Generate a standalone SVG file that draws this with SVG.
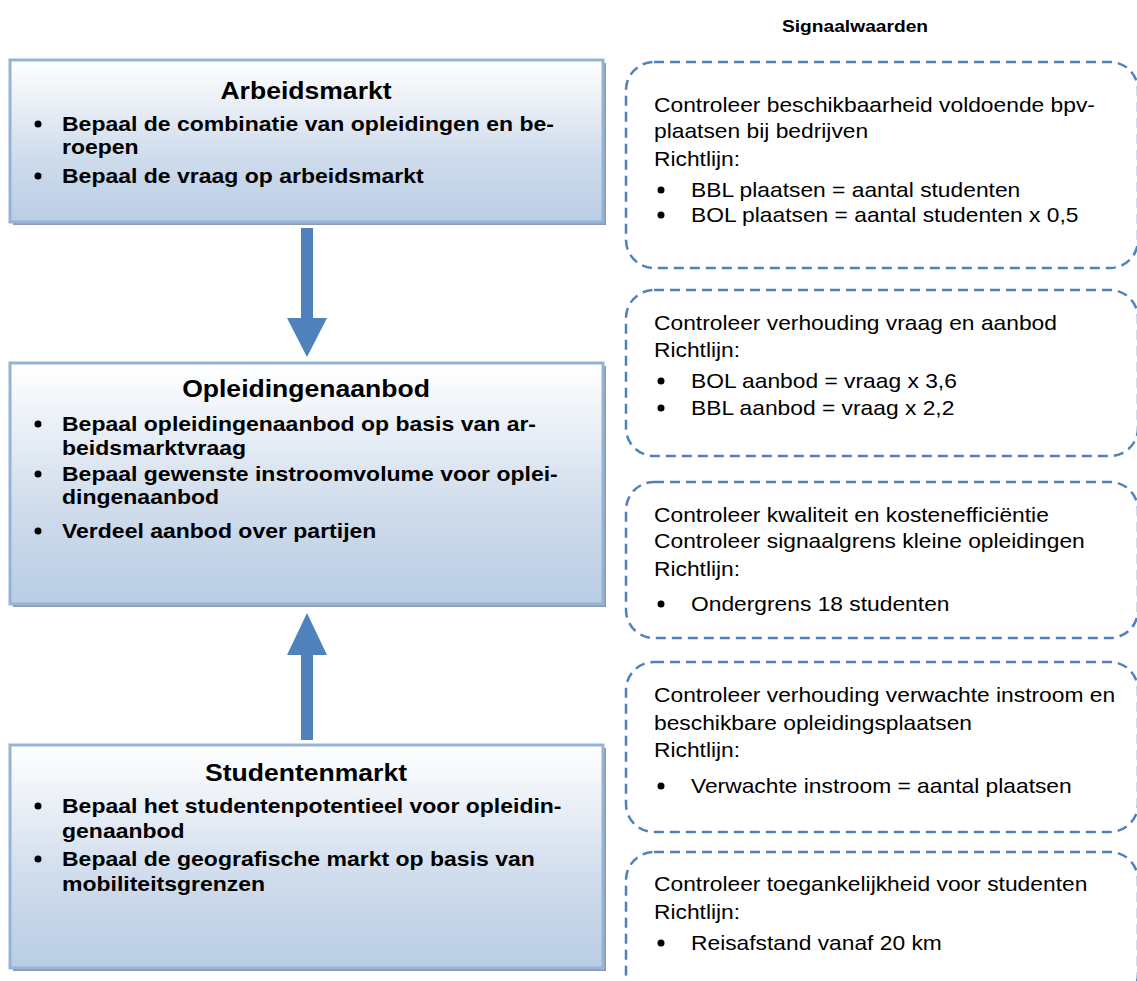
<svg xmlns="http://www.w3.org/2000/svg" width="1137" height="981" viewBox="0 0 1137 981">
<defs>
<linearGradient id="g" x1="0" y1="0" x2="0" y2="1">
<stop offset="0" stop-color="#FFFFFF"/>
<stop offset="0.6" stop-color="#CFDCEC"/>
<stop offset="1" stop-color="#B9CDE5"/>
</linearGradient>
<style>
.box{fill:url(#g);stroke:#95B3D7;stroke-width:3}
.sh{fill:#8E9AAA}
.t{font-family:"Liberation Sans",Arial,sans-serif;font-weight:bold;font-size:23.5px;fill:#000;text-anchor:middle}
.b{font-family:"Liberation Sans",Arial,sans-serif;font-weight:bold;font-size:20px;fill:#000}
.r{font-family:"Liberation Sans",Arial,sans-serif;font-size:20px;fill:#000}
.d{fill:none;stroke:#4F81BD;stroke-width:2.5;stroke-dasharray:10 6}
.dot{fill:#000}
.arr{fill:#4F81BD}
</style>
</defs>
<text transform="translate(855,32) scale(1.13,1)" class="b" style="font-size:17px" text-anchor="middle">Signaalwaarden</text>
<g id="arbeidsmarkt">
<rect x="13" y="63" width="593" height="162" class="sh"/>
<rect x="10" y="60" width="593" height="162" class="box"/>
<text transform="translate(306,99) scale(1.13,1)" class="t">Arbeidsmarkt</text>
<circle cx="38" cy="124" r="3.5" class="dot"/>
<text transform="translate(62,131) scale(1.15,1)" class="b">Bepaal de combinatie van opleidingen en be-</text>
<text transform="translate(62,154) scale(1.15,1)" class="b">roepen</text>
<circle cx="38" cy="176" r="3.5" class="dot"/>
<text transform="translate(62,183) scale(1.15,1)" class="b">Bepaal de vraag op arbeidsmarkt</text>
</g>
<g id="opleidingenaanbod">
<rect x="13" y="366" width="593" height="241" class="sh"/>
<rect x="10" y="363" width="593" height="241" class="box"/>
<text transform="translate(306,397) scale(1.13,1)" class="t">Opleidingenaanbod</text>
<circle cx="38" cy="424" r="3.5" class="dot"/>
<text transform="translate(62,431) scale(1.15,1)" class="b">Bepaal opleidingenaanbod op basis van ar-</text>
<text transform="translate(62,455) scale(1.15,1)" class="b">beidsmarktvraag</text>
<circle cx="38" cy="474" r="3.5" class="dot"/>
<text transform="translate(62,481) scale(1.15,1)" class="b">Bepaal gewenste instroomvolume voor oplei-</text>
<text transform="translate(62,504) scale(1.15,1)" class="b">dingenaanbod</text>
<circle cx="38" cy="531" r="3.5" class="dot"/>
<text transform="translate(62,538) scale(1.15,1)" class="b">Verdeel aanbod over partijen</text>
</g>
<g id="studentenmarkt">
<rect x="13" y="748" width="593" height="223" class="sh"/>
<rect x="10" y="745" width="593" height="223" class="box"/>
<text transform="translate(306,781) scale(1.13,1)" class="t">Studentenmarkt</text>
<circle cx="38" cy="806" r="3.5" class="dot"/>
<text transform="translate(62,813) scale(1.15,1)" class="b">Bepaal het studentenpotentieel voor opleidin-</text>
<text transform="translate(62,838) scale(1.15,1)" class="b">genaanbod</text>
<circle cx="38" cy="859" r="3.5" class="dot"/>
<text transform="translate(62,866) scale(1.15,1)" class="b">Bepaal de geografische markt op basis van</text>
<text transform="translate(62,891) scale(1.15,1)" class="b">mobiliteitsgrenzen</text>
</g>
<g id="connectors">
<polygon class="arr" points="301,228 313,228 313,318 327,318 307,357 287,318 301,318"/>
<polygon class="arr" points="307,613 327,655 313,655 313,740 301,740 301,655 287,655"/>
</g>
<g id="signaal1">
<rect x="626" y="62" width="512" height="206" rx="28" class="d"/>
<text transform="translate(654,112) scale(1.14,1)" class="r">Controleer beschikbaarheid voldoende bpv-</text>
<text transform="translate(654,138) scale(1.14,1)" class="r">plaatsen bij bedrijven</text>
<text transform="translate(654,166) scale(1.14,1)" class="r">Richtlijn:</text>
<circle cx="661" cy="190" r="3.5" class="dot"/>
<text transform="translate(691,197) scale(1.14,1)" class="r">BBL plaatsen = aantal studenten</text>
<circle cx="661" cy="215" r="3.5" class="dot"/>
<text transform="translate(691,222) scale(1.14,1)" class="r">BOL plaatsen = aantal studenten x 0,5</text>
</g>
<g id="signaal2">
<rect x="626" y="290" width="512" height="166" rx="28" class="d"/>
<text transform="translate(654,330) scale(1.14,1)" class="r">Controleer verhouding vraag en aanbod</text>
<text transform="translate(654,357) scale(1.14,1)" class="r">Richtlijn:</text>
<circle cx="661" cy="381" r="3.5" class="dot"/>
<text transform="translate(691,388) scale(1.14,1)" class="r">BOL aanbod = vraag x 3,6</text>
<circle cx="661" cy="408" r="3.5" class="dot"/>
<text transform="translate(691,415) scale(1.14,1)" class="r">BBL aanbod = vraag x 2,2</text>
</g>
<g id="signaal3">
<rect x="626" y="482" width="512" height="156" rx="28" class="d"/>
<text transform="translate(654,522) scale(1.14,1)" class="r">Controleer kwaliteit en kostenefficiëntie</text>
<text transform="translate(654,548) scale(1.14,1)" class="r">Controleer signaalgrens kleine opleidingen</text>
<text transform="translate(654,576) scale(1.14,1)" class="r">Richtlijn:</text>
<circle cx="661" cy="604" r="3.5" class="dot"/>
<text transform="translate(691,611) scale(1.14,1)" class="r">Ondergrens 18 studenten</text>
</g>
<g id="signaal4">
<rect x="626" y="662" width="512" height="170" rx="28" class="d"/>
<text transform="translate(654,702) scale(1.14,1)" class="r">Controleer verhouding verwachte instroom en</text>
<text transform="translate(654,730) scale(1.14,1)" class="r">beschikbare opleidingsplaatsen</text>
<text transform="translate(654,757) scale(1.14,1)" class="r">Richtlijn:</text>
<circle cx="661" cy="786" r="3.5" class="dot"/>
<text transform="translate(691,793) scale(1.14,1)" class="r">Verwachte instroom = aantal plaatsen</text>
</g>
<g id="signaal5">
<rect x="626" y="852" width="512" height="150" rx="28" class="d"/>
<text transform="translate(654,891) scale(1.14,1)" class="r">Controleer toegankelijkheid voor studenten</text>
<text transform="translate(654,919) scale(1.14,1)" class="r">Richtlijn:</text>
<circle cx="661" cy="943" r="3.5" class="dot"/>
<text transform="translate(691,950) scale(1.14,1)" class="r">Reisafstand vanaf 20 km</text>
</g>
</svg>
